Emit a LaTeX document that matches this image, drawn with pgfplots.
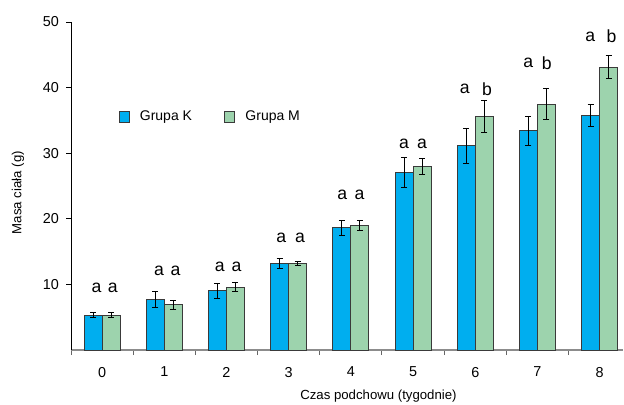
\documentclass[border=0pt]{standalone}
\usepackage{pgfplots}
\pgfplotsset{compat=1.18}
\usepackage{fontspec}
\setmainfont{Liberation Sans}
\definecolor{kblue}{HTML}{00AEEF}
\definecolor{mgreen}{HTML}{9DD3AD}
\definecolor{edge}{HTML}{3A3A3A}
\begin{document}
\begin{tikzpicture}
\begin{axis}[
  scale only axis,
  width=276pt, height=164pt,
  xmin=-0.5, xmax=8.375,
  ymin=0, ymax=50,
  axis x line*=bottom, axis y line*=left,
  x axis line style={draw=black!45, line width=1pt, -},
  y axis line style={draw=black, line width=0.5pt, -},
  xtick={0,...,8},
  minor xtick={-0.5,0.5,...,7.5},
  ytick={10,20,30,40,50},
  tick align=outside,
  x tick style={draw=none},
  minor x tick style={draw=black!60, line width=0.5pt},
  minor tick length=2.5pt,
  y tick style={draw=black, line width=0.5pt},
  major tick length=2.5pt,
  /pgf/number format/assume math mode=true,
  tick label style={font=\fontsize{7.2}{8}\selectfont},
  xticklabel style={yshift=-2.5pt},
  ylabel={Masa ciała (g)},
  xlabel={Czas podchowu (tygodnie)},
  label style={font=\fontsize{6.6}{8}\selectfont},
  ylabel style={at={(axis description cs:-0.096,0.48)}, anchor=center},
  xlabel style={at={(axis description cs:0.557,-0.14)}, anchor=center},
  ybar=0pt, bar width=9pt,
  legend style={at={(axis description cs:0.254,0.71)}, anchor=center, draw=none, fill=none,
    font=\fontsize{7}{8}\selectfont, column sep=0pt,
    /tikz/every odd column/.append style={column sep=3pt},
    /tikz/every even column/.append style={column sep=14pt}},
  legend columns=2,
  clip=false,
]
\addplot+[ybar, fill=kblue, draw=edge, line width=0.5pt,
  error bars/.cd, y dir=both, y explicit,
  error bar style={black, line width=0.5pt},
  error mark options={rotate=90, mark size=1.5pt, line width=0.5pt, black},
  /pgfplots/.cd, legend image code/.code={\draw[fill=kblue, draw=edge, line width=0.5pt] (0pt,-2.6pt) rectangle (5.2pt,2.6pt);}]
coordinates {
(0,5.3) +- (0,0.4)
(1,7.7) +- (0,1.2)
(2,9.0) +- (0,1.2)
(3,13.2) +- (0,0.7)
(4,18.6) +- (0,1.2)
(5,27.0) +- (0,2.3)
(6,31.1) +- (0,2.7)
(7,33.4) +- (0,2.15)
(8,35.8) +- (0,1.7)
};
\addlegendentry{Grupa K}
\addplot+[ybar, fill=mgreen, draw=edge, line width=0.5pt,
  error bars/.cd, y dir=both, y explicit,
  error bar style={black, line width=0.5pt},
  error mark options={rotate=90, mark size=1.5pt, line width=0.5pt, black},
  /pgfplots/.cd, legend image code/.code={\draw[fill=mgreen, draw=edge, line width=0.5pt] (0pt,-2.6pt) rectangle (5.2pt,2.6pt);}]
coordinates {
(0,5.3) +- (0,0.35)
(1,6.9) +- (0,0.65)
(2,9.6) +- (0,0.75)
(3,13.2) +- (0,0.3)
(4,19.0) +- (0,0.8)
(5,28.0) +- (0,1.25)
(6,35.6) +- (0,2.45)
(7,37.5) +- (0,2.4)
(8,43.1) +- (0,1.75)
};
\addlegendentry{Grupa M}
\begin{scope}[every node/.style={font=\fontsize{8.8}{10}\selectfont, anchor=center, inner sep=0pt}]
\node at (axis cs:-0.09,9.5) {a};   \node at (axis cs:0.17,9.5) {a};
\node at (axis cs:0.915,12.1) {a};  \node at (axis cs:1.18,12.1) {a};
\node at (axis cs:1.89,12.7) {a};   \node at (axis cs:2.16,12.7) {a};
\node at (axis cs:2.88,17.1) {a};   \node at (axis cs:3.18,17.1) {a};
\node at (axis cs:3.86,23.6) {a};   \node at (axis cs:4.14,23.6) {a};
\node at (axis cs:4.855,31.5) {a};  \node at (axis cs:5.145,31.5) {a};
\node at (axis cs:5.83,39.8) {a};   \node at (axis cs:6.19,39.8) {b};
\node at (axis cs:6.85,43.7) {a};   \node at (axis cs:7.15,43.7) {b};
\node at (axis cs:7.85,47.8) {a};   \node at (axis cs:8.19,47.8) {b};
\end{scope}
\end{axis}
\pgfresetboundingbox
\path (-35.5pt,-27.5pt) rectangle (276.5pt,175pt);
\end{tikzpicture}
\end{document}
